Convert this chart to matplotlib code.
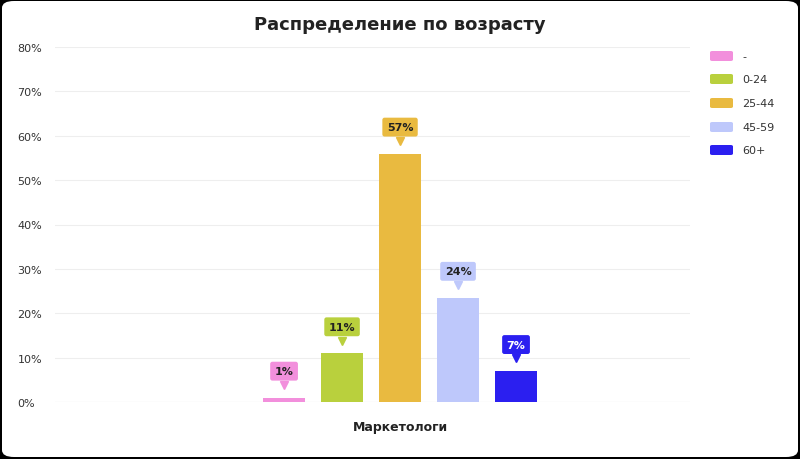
import matplotlib
matplotlib.use("Agg")
import matplotlib.pyplot as plt
import matplotlib.transforms as mtransforms
from matplotlib.patches import FancyBboxPatch

categories = ["-", "0-24", "25-44", "45-59", "60+"]
values = [1, 11, 56, 23.5, 7]
labels = ["1%", "11%", "57%", "24%", "7%"]
colors = ["#f28fdc", "#b9d03d", "#e9ba40", "#bec8fb", "#2b1ff0"]
yticks = [0, 10, 20, 30, 40, 50, 60, 70, 80]

W, H = 800, 460
fig = plt.figure(figsize=(8, 4.6), dpi=100)
fig.patch.set_facecolor("black")
card = FancyBboxPatch((2/W, 2/H), 796/W, 456/H, boxstyle="round,pad=0,rounding_size=0.015",
                      transform=fig.transFigure, facecolor="white", edgecolor="none", zorder=-10)
fig.patches.append(card)

ax = fig.add_axes([55/W, (H-403)/H, 635/W, 355/H])
ax.set_facecolor("none")
x = list(range(len(values)))
ax.bar(x, values, width=42/58, color=colors, zorder=3)
ax.set_xlim(-3.95, 7.0)
ax.set_ylim(0, 80)
ax.set_yticks(yticks)
ax.set_yticklabels([f"{t}%" for t in yticks], fontsize=8, color="#333333")
ax.tick_params(axis="y", length=0, pad=27)
for lab in ax.get_yticklabels():
    lab.set_horizontalalignment("left")
ax.set_xticks([])
ax.grid(axis="y", color="#eeeeee", lw=0.8, zorder=0)
for s in ax.spines.values():
    s.set_visible(False)
ax.axhline(0, color="#dddddd", lw=0.8, zorder=2)

offset = ax.transData + mtransforms.ScaledTranslation(0, 9/72, fig.dpi_scale_trans)
for xi, v, lab, c in zip(x, values, labels, colors):
    tc = "white" if c == "#2b1ff0" else "#222222"
    ax.annotate(lab, (xi, v), xytext=(0, 19), textcoords="offset points",
                ha="center", va="center", fontsize=8, fontweight="bold", color=tc,
                bbox=dict(boxstyle="round,pad=0.4,rounding_size=0.2", fc=c, ec="none"), zorder=5)
    ax.plot([xi], [v], marker="v", ms=6, color=c, transform=offset, zorder=4, clip_on=False)

fig.text(400/W, (H-428)/H, "Маркетологи", ha="center", va="center", fontsize=9,
         fontweight="bold", color="#222222")
fig.text(400/W, (H-25)/H, "Распределение по возрасту", ha="center", va="center",
         fontsize=13, fontweight="bold", color="#222222")

rows = [57, 80, 104, 128, 151]
for cat, c, yy in zip(categories, colors, rows):
    fig.patches.append(FancyBboxPatch((710/W, (H-yy-5)/H), 23/W, 10/H,
                       boxstyle="round,pad=0,rounding_size=0.003", transform=fig.transFigure,
                       fc=c, ec="none"))
    fig.text(742/W, (H-yy)/H, cat, va="center", ha="left", fontsize=8, color="#333333")

fig.savefig("out.png", dpi=100, facecolor="black")
